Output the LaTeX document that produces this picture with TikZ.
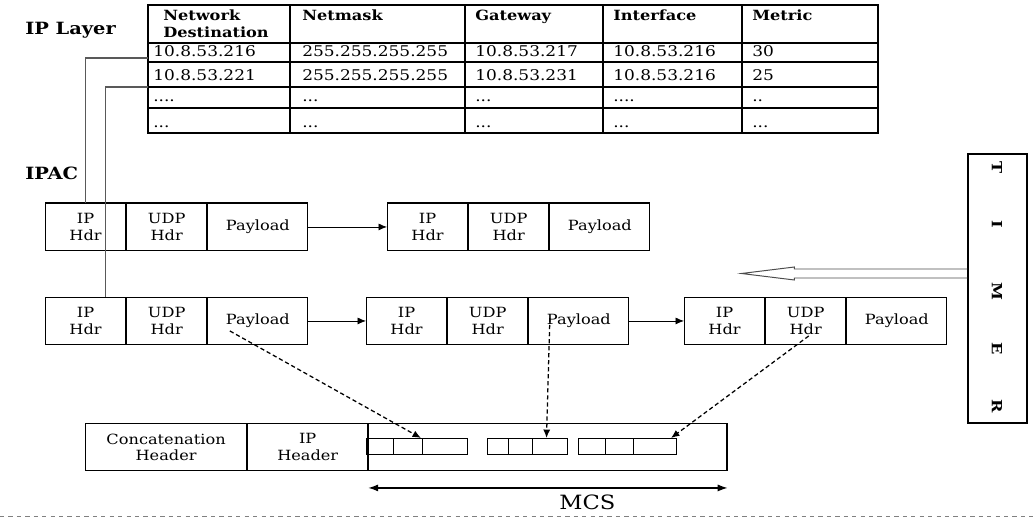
\documentclass[tikz,border=0pt]{standalone}
\usepackage{fontspec}
\setmainfont{DejaVu Serif}[FakeStretch=1.15]
\usetikzlibrary{arrows.meta, positioning, calc}
\newcommand{\dtwo}{..}
\newcommand{\dthree}{...}
\newcommand{\dfour}{....}

\begin{document}
\begin{tikzpicture}[x=0.025cm, y=-0.025cm, font=\fontsize{10}{11.5}\selectfont,
  cell/.style={draw, line width=0.8pt, minimum height=1.17cm, inner sep=1pt, align=center},
  ipcell/.style={cell, minimum width=2cm},
  plcell/.style={cell, minimum width=2.5cm},
  tbltxt/.style={anchor=base west, inner sep=0pt, font=\fontsize{10.5}{12}\selectfont},
  tblhead/.style={anchor=north west, inner sep=0pt, align=left, font=\bfseries\fontsize{10}{12}\selectfont},
  layer/.style={anchor=west, inner sep=0pt, font=\bfseries\fontsize{12}{14}\selectfont},
  feed/.style={gray!70!black, line width=1.2pt},
  flow/.style={-{Latex[length=6pt,width=5pt]}, line width=0.6pt},
  copy/.style={-{Latex[length=6pt,width=5pt]}, line width=0.9pt, dash pattern=on 3pt off 2pt}]

\useasboundingbox (0,0) rectangle (1033,518);

% routing table of the IP layer
\draw[line width=1.2pt] (148,5) rectangle (878,133);
\foreach \y in {43,62,87,108} \draw[line width=0.9pt] (148,\y) -- (878,\y);
\foreach \x in {290,465,603,742} \draw[line width=0.9pt] (\x,5) -- (\x,133);
\node[tblhead] (hdst) at (163,10) {Network\\Destination};
\node[tblhead] (hmask) at (302,10) {Netmask};
\node[tblhead] (hgw) at (475,10) {Gateway};
\node[tblhead] (hif) at (613,10) {Interface};
\node[tblhead] (hmet) at (752,10) {Metric};
\foreach \a/\b/\c/\d/\e/\y in {10.8.53.216/255.255.255.255/10.8.53.217/10.8.53.216/30/57,
    10.8.53.221/255.255.255.255/10.8.53.231/10.8.53.216/25/81,
    \dfour/\dthree/\dthree/\dfour/\dtwo/102, \dthree/\dthree/\dthree/\dthree/\dthree/128} {
  \node[tbltxt] (dst\y) at (153,\y) {\a};
  \node[tbltxt] (mask\y) at (302,\y) {\b};
  \node[tbltxt] (gw\y) at (475,\y) {\c};
  \node[tbltxt] (if\y) at (613,\y) {\d};
  \node[tbltxt] (met\y) at (752,\y) {\e};
}

% layer labels
\node[layer] (iplayer) at (25,30) {IP Layer};
\node[layer] (ipac) at (25,173) {IPAC};

% packets
\foreach \n/\x/\y in {a/45/203, b/387/203, c/45/297, d/366/297, e/684/297} {
  \node[ipcell, anchor=north west] (ip\n) at (\x,\y) {IP\\Hdr};
  \node[ipcell, right=0pt of ip\n] (udp\n) {UDP\\Hdr};
  \node[plcell, right=0pt of udp\n] (pl\n) {Payload};
}
\draw[line width=1.6pt] (ipa.north west) -- (pla.north east);
\draw[line width=1.6pt] (ipb.north west) -- (plb.north east);
\draw[flow] (pla) -- (ipb);
\draw[flow] (plc) -- (ipd);
\draw[flow] (pld) -- (ipe);

% table entries down to IPAC
\coordinate (rt1) at (148,58);
\coordinate (rt2) at (148,87);
\draw[feed] (rt1) -| (ipa.north);
\draw[feed] (rt2) -| ([xshift=0.5cm]ipc.north);

% timer
\node[draw, line width=0.8pt, minimum width=1.475cm, minimum height=6.725cm] (timer) at (997.5,288.5) {};
\foreach \l/\y [count=\i] in {T/168, I/224, M/291, E/349, R/406}
  \node[rotate=-90, font=\bfseries\fontsize{10}{12}\selectfont] (t\i) at (997,\y) {\l};
\coordinate (tmr) at ([yshift=0.375cm]timer.west);
\draw[line width=0.7pt, gray!60!black] (tmr) ++(0,-4.5) -- ++(-173,0) -- ++(0,-2) -- ++(-53,6.5)
  -- ++(53,6.5) -- ++(0,-2) -- ++(173,0);

% concatenated packet
\node[cell, minimum width=4.025cm, anchor=north west] (concat) at (85,423) {Concatenation\\Header};
\node[cell, minimum width=3cm, right=0pt of concat] (iphdr) {IP\\Header};
\node[cell, minimum width=8.95cm, right=0pt of iphdr] (mcs) {};
\foreach \g/\xa/\xb/\xc/\xd in {1/366/393/422/467, 2/487/508/532/567, 3/578/605/633/676}
  \draw[line width=0.7pt] (\xa,438) rectangle (\xd,454) (\xb,438) -- (\xb,454) (\xc,438) -- (\xc,454);
\coordinate (slot1) at (421,438);
\coordinate (slot2) at (546.5,438);
\coordinate (slot3) at (671,438);
\draw[copy] ($(plc.center)+(-28,10)$) -- (slot1);
\draw[copy] ($(pld.center)+(-29,-3)$) -- (slot2);
\draw[copy] ($(udpe.center)+(3,15)$) -- (slot3);

\draw[{Latex[length=7pt,width=5pt]}-{Latex[length=7pt,width=5pt]}, line width=0.8pt]
  ([yshift=-0.425cm]mcs.south west) -- ([yshift=-0.425cm]mcs.south east)
  node[pos=0.61, below=1pt, font=\fontsize{14}{16}\selectfont] (mcslbl) {MCS};

\draw[gray, dashed, line width=0.6pt] (0,516) -- (1033,516);
\end{tikzpicture}
\end{document}
